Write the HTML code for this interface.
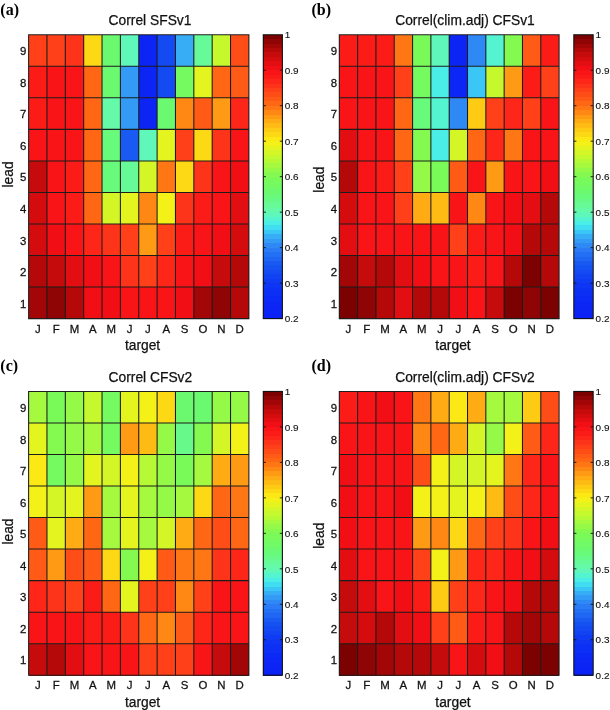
<!DOCTYPE html>
<html><head><meta charset="utf-8"><title>Correlation heatmaps</title>
<style>
html,body{margin:0;padding:0;background:#fff;}
svg{display:block;will-change:transform;}
text{font-family:"Liberation Sans",sans-serif;fill:#111;stroke:#111;stroke-width:0.25px;}
.cb{stroke-width:0.12px;}
.tag{font-family:"Liberation Serif",serif;font-weight:bold;fill:#000;stroke:none;}
</style></head><body>
<svg width="610" height="710" viewBox="0 0 610 710">
<rect width="610" height="710" fill="#fff"/>
<g shape-rendering="crispEdges">
<rect x="28.60" y="34.75" width="18.66" height="31.84" fill="#ff4019"/>
<rect x="46.96" y="34.75" width="18.66" height="31.84" fill="#ff4019"/>
<rect x="65.32" y="34.75" width="18.66" height="31.84" fill="#fe341a"/>
<rect x="83.68" y="34.75" width="18.66" height="31.84" fill="#fcd914"/>
<rect x="102.03" y="34.75" width="18.66" height="31.84" fill="#6bfa6f"/>
<rect x="120.39" y="34.75" width="18.66" height="31.84" fill="#5ff8ba"/>
<rect x="138.75" y="34.75" width="18.66" height="31.84" fill="#0c25f5"/>
<rect x="157.11" y="34.75" width="18.66" height="31.84" fill="#134af2"/>
<rect x="175.47" y="34.75" width="18.66" height="31.84" fill="#37adf5"/>
<rect x="193.83" y="34.75" width="18.66" height="31.84" fill="#66fa98"/>
<rect x="212.18" y="34.75" width="18.66" height="31.84" fill="#c5f92e"/>
<rect x="230.54" y="34.75" width="18.66" height="31.84" fill="#ff4d18"/>
<rect x="28.60" y="66.29" width="18.66" height="31.84" fill="#fb1c18"/>
<rect x="46.96" y="66.29" width="18.66" height="31.84" fill="#f91417"/>
<rect x="65.32" y="66.29" width="18.66" height="31.84" fill="#f91417"/>
<rect x="83.68" y="66.29" width="18.66" height="31.84" fill="#ff6715"/>
<rect x="102.03" y="66.29" width="18.66" height="31.84" fill="#6bfa6f"/>
<rect x="120.39" y="66.29" width="18.66" height="31.84" fill="#339af5"/>
<rect x="138.75" y="66.29" width="18.66" height="31.84" fill="#0c25f5"/>
<rect x="157.11" y="66.29" width="18.66" height="31.84" fill="#134af2"/>
<rect x="175.47" y="66.29" width="18.66" height="31.84" fill="#75fa60"/>
<rect x="193.83" y="66.29" width="18.66" height="31.84" fill="#e4f41f"/>
<rect x="212.18" y="66.29" width="18.66" height="31.84" fill="#ff6715"/>
<rect x="230.54" y="66.29" width="18.66" height="31.84" fill="#ff5a16"/>
<rect x="28.60" y="97.83" width="18.66" height="31.84" fill="#fb1c18"/>
<rect x="46.96" y="97.83" width="18.66" height="31.84" fill="#f91417"/>
<rect x="65.32" y="97.83" width="18.66" height="31.84" fill="#f91417"/>
<rect x="83.68" y="97.83" width="18.66" height="31.84" fill="#ff6715"/>
<rect x="102.03" y="97.83" width="18.66" height="31.84" fill="#65faa7"/>
<rect x="120.39" y="97.83" width="18.66" height="31.84" fill="#339af5"/>
<rect x="138.75" y="97.83" width="18.66" height="31.84" fill="#0c25f5"/>
<rect x="157.11" y="97.83" width="18.66" height="31.84" fill="#6bfa6f"/>
<rect x="175.47" y="97.83" width="18.66" height="31.84" fill="#ff8814"/>
<rect x="193.83" y="97.83" width="18.66" height="31.84" fill="#ff5a16"/>
<rect x="212.18" y="97.83" width="18.66" height="31.84" fill="#ff9a14"/>
<rect x="230.54" y="97.83" width="18.66" height="31.84" fill="#fd2619"/>
<rect x="28.60" y="129.37" width="18.66" height="31.84" fill="#f91417"/>
<rect x="46.96" y="129.37" width="18.66" height="31.84" fill="#f91417"/>
<rect x="65.32" y="129.37" width="18.66" height="31.84" fill="#f91417"/>
<rect x="83.68" y="129.37" width="18.66" height="31.84" fill="#ff6715"/>
<rect x="102.03" y="129.37" width="18.66" height="31.84" fill="#68fa7b"/>
<rect x="120.39" y="129.37" width="18.66" height="31.84" fill="#195bf2"/>
<rect x="138.75" y="129.37" width="18.66" height="31.84" fill="#5ff8ba"/>
<rect x="157.11" y="129.37" width="18.66" height="31.84" fill="#e4f41f"/>
<rect x="175.47" y="129.37" width="18.66" height="31.84" fill="#ff4019"/>
<rect x="193.83" y="129.37" width="18.66" height="31.84" fill="#fcd914"/>
<rect x="212.18" y="129.37" width="18.66" height="31.84" fill="#fe341a"/>
<rect x="230.54" y="129.37" width="18.66" height="31.84" fill="#f91417"/>
<rect x="28.60" y="160.91" width="18.66" height="31.84" fill="#c50b0b"/>
<rect x="46.96" y="160.91" width="18.66" height="31.84" fill="#f91417"/>
<rect x="65.32" y="160.91" width="18.66" height="31.84" fill="#fb1c18"/>
<rect x="83.68" y="160.91" width="18.66" height="31.84" fill="#ff6715"/>
<rect x="102.03" y="160.91" width="18.66" height="31.84" fill="#68fa7b"/>
<rect x="120.39" y="160.91" width="18.66" height="31.84" fill="#66fa98"/>
<rect x="138.75" y="160.91" width="18.66" height="31.84" fill="#d4f627"/>
<rect x="157.11" y="160.91" width="18.66" height="31.84" fill="#ff7714"/>
<rect x="175.47" y="160.91" width="18.66" height="31.84" fill="#fcd914"/>
<rect x="193.83" y="160.91" width="18.66" height="31.84" fill="#fe341a"/>
<rect x="212.18" y="160.91" width="18.66" height="31.84" fill="#f91417"/>
<rect x="230.54" y="160.91" width="18.66" height="31.84" fill="#f10f15"/>
<rect x="28.60" y="192.44" width="18.66" height="31.84" fill="#d40c0e"/>
<rect x="46.96" y="192.44" width="18.66" height="31.84" fill="#f91417"/>
<rect x="65.32" y="192.44" width="18.66" height="31.84" fill="#fb1c18"/>
<rect x="83.68" y="192.44" width="18.66" height="31.84" fill="#ff6715"/>
<rect x="102.03" y="192.44" width="18.66" height="31.84" fill="#d4f627"/>
<rect x="120.39" y="192.44" width="18.66" height="31.84" fill="#e4f41f"/>
<rect x="138.75" y="192.44" width="18.66" height="31.84" fill="#ff8814"/>
<rect x="157.11" y="192.44" width="18.66" height="31.84" fill="#f3f118"/>
<rect x="175.47" y="192.44" width="18.66" height="31.84" fill="#fe341a"/>
<rect x="193.83" y="192.44" width="18.66" height="31.84" fill="#fb1c18"/>
<rect x="212.18" y="192.44" width="18.66" height="31.84" fill="#f91417"/>
<rect x="230.54" y="192.44" width="18.66" height="31.84" fill="#e20e12"/>
<rect x="28.60" y="223.98" width="18.66" height="31.84" fill="#d40c0e"/>
<rect x="46.96" y="223.98" width="18.66" height="31.84" fill="#f10f15"/>
<rect x="65.32" y="223.98" width="18.66" height="31.84" fill="#f91417"/>
<rect x="83.68" y="223.98" width="18.66" height="31.84" fill="#fd2619"/>
<rect x="102.03" y="223.98" width="18.66" height="31.84" fill="#fe341a"/>
<rect x="120.39" y="223.98" width="18.66" height="31.84" fill="#ff4019"/>
<rect x="138.75" y="223.98" width="18.66" height="31.84" fill="#ff9a14"/>
<rect x="157.11" y="223.98" width="18.66" height="31.84" fill="#ff4019"/>
<rect x="175.47" y="223.98" width="18.66" height="31.84" fill="#fb1c18"/>
<rect x="193.83" y="223.98" width="18.66" height="31.84" fill="#f91417"/>
<rect x="212.18" y="223.98" width="18.66" height="31.84" fill="#f10f15"/>
<rect x="230.54" y="223.98" width="18.66" height="31.84" fill="#d40c0e"/>
<rect x="28.60" y="255.52" width="18.66" height="31.84" fill="#b50909"/>
<rect x="46.96" y="255.52" width="18.66" height="31.84" fill="#c50b0b"/>
<rect x="65.32" y="255.52" width="18.66" height="31.84" fill="#e20e12"/>
<rect x="83.68" y="255.52" width="18.66" height="31.84" fill="#f10f15"/>
<rect x="102.03" y="255.52" width="18.66" height="31.84" fill="#f91417"/>
<rect x="120.39" y="255.52" width="18.66" height="31.84" fill="#fe341a"/>
<rect x="138.75" y="255.52" width="18.66" height="31.84" fill="#ff4019"/>
<rect x="157.11" y="255.52" width="18.66" height="31.84" fill="#fd2619"/>
<rect x="175.47" y="255.52" width="18.66" height="31.84" fill="#f91417"/>
<rect x="193.83" y="255.52" width="18.66" height="31.84" fill="#f10f15"/>
<rect x="212.18" y="255.52" width="18.66" height="31.84" fill="#c50b0b"/>
<rect x="230.54" y="255.52" width="18.66" height="31.84" fill="#b50909"/>
<rect x="28.60" y="287.06" width="18.66" height="31.84" fill="#a20606"/>
<rect x="46.96" y="287.06" width="18.66" height="31.84" fill="#8f0404"/>
<rect x="65.32" y="287.06" width="18.66" height="31.84" fill="#b50909"/>
<rect x="83.68" y="287.06" width="18.66" height="31.84" fill="#f10f15"/>
<rect x="102.03" y="287.06" width="18.66" height="31.84" fill="#f10f15"/>
<rect x="120.39" y="287.06" width="18.66" height="31.84" fill="#f91417"/>
<rect x="138.75" y="287.06" width="18.66" height="31.84" fill="#f91417"/>
<rect x="157.11" y="287.06" width="18.66" height="31.84" fill="#f91417"/>
<rect x="175.47" y="287.06" width="18.66" height="31.84" fill="#f10f15"/>
<rect x="193.83" y="287.06" width="18.66" height="31.84" fill="#a20606"/>
<rect x="212.18" y="287.06" width="18.66" height="31.84" fill="#8f0404"/>
<rect x="230.54" y="287.06" width="18.66" height="31.84" fill="#b50909"/>
</g>
<path d="M28.60 34.25V319.10M46.96 34.25V319.10M65.32 34.25V319.10M83.68 34.25V319.10M102.03 34.25V319.10M120.39 34.25V319.10M138.75 34.25V319.10M157.11 34.25V319.10M175.47 34.25V319.10M193.83 34.25V319.10M212.18 34.25V319.10M230.54 34.25V319.10M248.90 34.25V319.10M28.10 34.75H249.40M28.10 66.29H249.40M28.10 97.83H249.40M28.10 129.37H249.40M28.10 160.91H249.40M28.10 192.44H249.40M28.10 223.98H249.40M28.10 255.52H249.40M28.10 287.06H249.40M28.10 318.60H249.40" stroke="#1c1c1c" stroke-width="1.05" fill="none"/>
<g shape-rendering="crispEdges">
<rect x="263.30" y="34.75" width="19.10" height="4.74" fill="#7c0101"/>
<rect x="263.30" y="39.19" width="19.10" height="4.74" fill="#8f0404"/>
<rect x="263.30" y="43.62" width="19.10" height="4.74" fill="#a20606"/>
<rect x="263.30" y="48.06" width="19.10" height="4.74" fill="#b50909"/>
<rect x="263.30" y="52.49" width="19.10" height="4.74" fill="#c50b0b"/>
<rect x="263.30" y="56.93" width="19.10" height="4.74" fill="#d40c0e"/>
<rect x="263.30" y="61.36" width="19.10" height="4.74" fill="#e20e12"/>
<rect x="263.30" y="65.80" width="19.10" height="4.74" fill="#f10f15"/>
<rect x="263.30" y="70.23" width="19.10" height="4.74" fill="#f91417"/>
<rect x="263.30" y="74.67" width="19.10" height="4.74" fill="#fb1c18"/>
<rect x="263.30" y="79.10" width="19.10" height="4.74" fill="#fd2619"/>
<rect x="263.30" y="83.54" width="19.10" height="4.74" fill="#fe341a"/>
<rect x="263.30" y="87.97" width="19.10" height="4.74" fill="#ff4019"/>
<rect x="263.30" y="92.41" width="19.10" height="4.74" fill="#ff4d18"/>
<rect x="263.30" y="96.84" width="19.10" height="4.74" fill="#ff5a16"/>
<rect x="263.30" y="101.28" width="19.10" height="4.74" fill="#ff6715"/>
<rect x="263.30" y="105.71" width="19.10" height="4.74" fill="#ff7714"/>
<rect x="263.30" y="110.15" width="19.10" height="4.74" fill="#ff8814"/>
<rect x="263.30" y="114.58" width="19.10" height="4.74" fill="#ff9a14"/>
<rect x="263.30" y="119.02" width="19.10" height="4.74" fill="#ffab14"/>
<rect x="263.30" y="123.45" width="19.10" height="4.74" fill="#febb14"/>
<rect x="263.30" y="127.89" width="19.10" height="4.74" fill="#fdcb14"/>
<rect x="263.30" y="132.32" width="19.10" height="4.74" fill="#fcd914"/>
<rect x="263.30" y="136.76" width="19.10" height="4.74" fill="#fbe814"/>
<rect x="263.30" y="141.19" width="19.10" height="4.74" fill="#f3f118"/>
<rect x="263.30" y="145.63" width="19.10" height="4.74" fill="#e4f41f"/>
<rect x="263.30" y="150.06" width="19.10" height="4.74" fill="#d4f627"/>
<rect x="263.30" y="154.50" width="19.10" height="4.74" fill="#c5f92e"/>
<rect x="263.30" y="158.93" width="19.10" height="4.74" fill="#b6fa36"/>
<rect x="263.30" y="163.37" width="19.10" height="4.74" fill="#a5fa3f"/>
<rect x="263.30" y="167.80" width="19.10" height="4.74" fill="#95fa47"/>
<rect x="263.30" y="172.24" width="19.10" height="4.74" fill="#84fa50"/>
<rect x="263.30" y="176.68" width="19.10" height="4.74" fill="#7afa58"/>
<rect x="263.30" y="181.11" width="19.10" height="4.74" fill="#75fa60"/>
<rect x="263.30" y="185.55" width="19.10" height="4.74" fill="#70fa67"/>
<rect x="263.30" y="189.98" width="19.10" height="4.74" fill="#6bfa6f"/>
<rect x="263.30" y="194.42" width="19.10" height="4.74" fill="#68fa7b"/>
<rect x="263.30" y="198.85" width="19.10" height="4.74" fill="#67fa8a"/>
<rect x="263.30" y="203.29" width="19.10" height="4.74" fill="#66fa98"/>
<rect x="263.30" y="207.72" width="19.10" height="4.74" fill="#65faa7"/>
<rect x="263.30" y="212.16" width="19.10" height="4.74" fill="#5ff8ba"/>
<rect x="263.30" y="216.59" width="19.10" height="4.74" fill="#54f4d1"/>
<rect x="263.30" y="221.03" width="19.10" height="4.74" fill="#4aeee7"/>
<rect x="263.30" y="225.46" width="19.10" height="4.74" fill="#41ddf0"/>
<rect x="263.30" y="229.90" width="19.10" height="4.74" fill="#3ac7f5"/>
<rect x="263.30" y="234.33" width="19.10" height="4.74" fill="#37adf5"/>
<rect x="263.30" y="238.77" width="19.10" height="4.74" fill="#339af5"/>
<rect x="263.30" y="243.20" width="19.10" height="4.74" fill="#2f89f5"/>
<rect x="263.30" y="247.64" width="19.10" height="4.74" fill="#2a7bf5"/>
<rect x="263.30" y="252.07" width="19.10" height="4.74" fill="#2470f4"/>
<rect x="263.30" y="256.51" width="19.10" height="4.74" fill="#1f66f3"/>
<rect x="263.30" y="260.94" width="19.10" height="4.74" fill="#195bf2"/>
<rect x="263.30" y="265.38" width="19.10" height="4.74" fill="#1552f2"/>
<rect x="263.30" y="269.81" width="19.10" height="4.74" fill="#134af2"/>
<rect x="263.30" y="274.25" width="19.10" height="4.74" fill="#1143f3"/>
<rect x="263.30" y="278.68" width="19.10" height="4.74" fill="#0f3bf3"/>
<rect x="263.30" y="283.12" width="19.10" height="4.74" fill="#0e35f3"/>
<rect x="263.30" y="287.55" width="19.10" height="4.74" fill="#0d31f4"/>
<rect x="263.30" y="291.99" width="19.10" height="4.74" fill="#0d2ef4"/>
<rect x="263.30" y="296.42" width="19.10" height="4.74" fill="#0c2af5"/>
<rect x="263.30" y="300.86" width="19.10" height="4.74" fill="#0c27f5"/>
<rect x="263.30" y="305.29" width="19.10" height="4.74" fill="#0c25f5"/>
<rect x="263.30" y="309.73" width="19.10" height="4.74" fill="#0c23f5"/>
<rect x="263.30" y="314.16" width="19.10" height="4.74" fill="#0c21f5"/>
</g>
<rect x="263.30" y="34.75" width="19.10" height="283.85" fill="none" stroke="#111" stroke-width="1.1"/>
<text transform="translate(284.80 38.45) scale(1.07 1)" font-size="9.3" class="cb">1</text>
<path d="M263.30 70.23h2.6M282.40 70.23h-2.6" stroke="#111" stroke-width="0.9"/>
<text transform="translate(284.80 73.93) scale(1.07 1)" font-size="9.3" class="cb">0.9</text>
<path d="M263.30 105.71h2.6M282.40 105.71h-2.6" stroke="#111" stroke-width="0.9"/>
<text transform="translate(284.80 109.41) scale(1.07 1)" font-size="9.3" class="cb">0.8</text>
<path d="M263.30 141.19h2.6M282.40 141.19h-2.6" stroke="#111" stroke-width="0.9"/>
<text transform="translate(284.80 144.89) scale(1.07 1)" font-size="9.3" class="cb">0.7</text>
<path d="M263.30 176.68h2.6M282.40 176.68h-2.6" stroke="#111" stroke-width="0.9"/>
<text transform="translate(284.80 180.38) scale(1.07 1)" font-size="9.3" class="cb">0.6</text>
<path d="M263.30 212.16h2.6M282.40 212.16h-2.6" stroke="#111" stroke-width="0.9"/>
<text transform="translate(284.80 215.86) scale(1.07 1)" font-size="9.3" class="cb">0.5</text>
<path d="M263.30 247.64h2.6M282.40 247.64h-2.6" stroke="#111" stroke-width="0.9"/>
<text transform="translate(284.80 251.34) scale(1.07 1)" font-size="9.3" class="cb">0.4</text>
<path d="M263.30 283.12h2.6M282.40 283.12h-2.6" stroke="#111" stroke-width="0.9"/>
<text transform="translate(284.80 286.82) scale(1.07 1)" font-size="9.3" class="cb">0.3</text>
<text transform="translate(284.80 322.30) scale(1.07 1)" font-size="9.3" class="cb">0.2</text>
<text transform="translate(26.40 55.32) scale(1.06 1)" font-size="10.8" text-anchor="end">9</text>
<text transform="translate(26.40 86.86) scale(1.06 1)" font-size="10.8" text-anchor="end">8</text>
<text transform="translate(26.40 118.40) scale(1.06 1)" font-size="10.8" text-anchor="end">7</text>
<text transform="translate(26.40 149.94) scale(1.06 1)" font-size="10.8" text-anchor="end">6</text>
<text transform="translate(26.40 181.48) scale(1.06 1)" font-size="10.8" text-anchor="end">5</text>
<text transform="translate(26.40 213.01) scale(1.06 1)" font-size="10.8" text-anchor="end">4</text>
<text transform="translate(26.40 244.55) scale(1.06 1)" font-size="10.8" text-anchor="end">3</text>
<text transform="translate(26.40 276.09) scale(1.06 1)" font-size="10.8" text-anchor="end">2</text>
<text transform="translate(26.40 307.63) scale(1.06 1)" font-size="10.8" text-anchor="end">1</text>
<text transform="translate(37.78 332.50) scale(1.06 1)" font-size="10.8" text-anchor="middle">J</text>
<text transform="translate(56.14 332.50) scale(1.06 1)" font-size="10.8" text-anchor="middle">F</text>
<text transform="translate(74.50 332.50) scale(1.06 1)" font-size="10.8" text-anchor="middle">M</text>
<text transform="translate(92.85 332.50) scale(1.06 1)" font-size="10.8" text-anchor="middle">A</text>
<text transform="translate(111.21 332.50) scale(1.06 1)" font-size="10.8" text-anchor="middle">M</text>
<text transform="translate(129.57 332.50) scale(1.06 1)" font-size="10.8" text-anchor="middle">J</text>
<text transform="translate(147.93 332.50) scale(1.06 1)" font-size="10.8" text-anchor="middle">J</text>
<text transform="translate(166.29 332.50) scale(1.06 1)" font-size="10.8" text-anchor="middle">A</text>
<text transform="translate(184.65 332.50) scale(1.06 1)" font-size="10.8" text-anchor="middle">S</text>
<text transform="translate(203.00 332.50) scale(1.06 1)" font-size="10.8" text-anchor="middle">O</text>
<text transform="translate(221.36 332.50) scale(1.06 1)" font-size="10.8" text-anchor="middle">N</text>
<text transform="translate(239.72 332.50) scale(1.06 1)" font-size="10.8" text-anchor="middle">D</text>
<text transform="translate(108.60 25.45)" font-size="13.8">Correl SFSv1</text>
<text transform="translate(142.55 350.10)" font-size="13.8" text-anchor="middle">target</text>
<text transform="translate(13.00 174.48) rotate(-90)" font-size="13.8" text-anchor="middle">lead</text>
<text transform="translate(0.30 15.30)" font-size="16.0" class="tag">(a)</text>
<g shape-rendering="crispEdges">
<rect x="339.30" y="34.75" width="18.62" height="31.84" fill="#fb1c18"/>
<rect x="357.62" y="34.75" width="18.62" height="31.84" fill="#fb1c18"/>
<rect x="375.93" y="34.75" width="18.62" height="31.84" fill="#fb1c18"/>
<rect x="394.25" y="34.75" width="18.62" height="31.84" fill="#ff7714"/>
<rect x="412.57" y="34.75" width="18.62" height="31.84" fill="#7afa58"/>
<rect x="430.88" y="34.75" width="18.62" height="31.84" fill="#5ff8ba"/>
<rect x="449.20" y="34.75" width="18.62" height="31.84" fill="#0c25f5"/>
<rect x="467.52" y="34.75" width="18.62" height="31.84" fill="#2f89f5"/>
<rect x="485.83" y="34.75" width="18.62" height="31.84" fill="#54f4d1"/>
<rect x="504.15" y="34.75" width="18.62" height="31.84" fill="#84fa50"/>
<rect x="522.47" y="34.75" width="18.62" height="31.84" fill="#ff5a16"/>
<rect x="540.78" y="34.75" width="18.62" height="31.84" fill="#fb1c18"/>
<rect x="339.30" y="66.29" width="18.62" height="31.84" fill="#f91417"/>
<rect x="357.62" y="66.29" width="18.62" height="31.84" fill="#f91417"/>
<rect x="375.93" y="66.29" width="18.62" height="31.84" fill="#f91417"/>
<rect x="394.25" y="66.29" width="18.62" height="31.84" fill="#ff4019"/>
<rect x="412.57" y="66.29" width="18.62" height="31.84" fill="#75fa60"/>
<rect x="430.88" y="66.29" width="18.62" height="31.84" fill="#4aeee7"/>
<rect x="449.20" y="66.29" width="18.62" height="31.84" fill="#0c27f5"/>
<rect x="467.52" y="66.29" width="18.62" height="31.84" fill="#3ac7f5"/>
<rect x="485.83" y="66.29" width="18.62" height="31.84" fill="#c5f92e"/>
<rect x="504.15" y="66.29" width="18.62" height="31.84" fill="#ff9a14"/>
<rect x="522.47" y="66.29" width="18.62" height="31.84" fill="#fb1c18"/>
<rect x="540.78" y="66.29" width="18.62" height="31.84" fill="#ff4019"/>
<rect x="339.30" y="97.83" width="18.62" height="31.84" fill="#f91417"/>
<rect x="357.62" y="97.83" width="18.62" height="31.84" fill="#f91417"/>
<rect x="375.93" y="97.83" width="18.62" height="31.84" fill="#f91417"/>
<rect x="394.25" y="97.83" width="18.62" height="31.84" fill="#ff6715"/>
<rect x="412.57" y="97.83" width="18.62" height="31.84" fill="#68fa7b"/>
<rect x="430.88" y="97.83" width="18.62" height="31.84" fill="#54f4d1"/>
<rect x="449.20" y="97.83" width="18.62" height="31.84" fill="#2f89f5"/>
<rect x="467.52" y="97.83" width="18.62" height="31.84" fill="#fdcb14"/>
<rect x="485.83" y="97.83" width="18.62" height="31.84" fill="#ff4019"/>
<rect x="504.15" y="97.83" width="18.62" height="31.84" fill="#fd2619"/>
<rect x="522.47" y="97.83" width="18.62" height="31.84" fill="#ff4019"/>
<rect x="540.78" y="97.83" width="18.62" height="31.84" fill="#f91417"/>
<rect x="339.30" y="129.37" width="18.62" height="31.84" fill="#e20e12"/>
<rect x="357.62" y="129.37" width="18.62" height="31.84" fill="#f91417"/>
<rect x="375.93" y="129.37" width="18.62" height="31.84" fill="#f91417"/>
<rect x="394.25" y="129.37" width="18.62" height="31.84" fill="#ff6715"/>
<rect x="412.57" y="129.37" width="18.62" height="31.84" fill="#84fa50"/>
<rect x="430.88" y="129.37" width="18.62" height="31.84" fill="#4aeee7"/>
<rect x="449.20" y="129.37" width="18.62" height="31.84" fill="#d4f627"/>
<rect x="467.52" y="129.37" width="18.62" height="31.84" fill="#ff6715"/>
<rect x="485.83" y="129.37" width="18.62" height="31.84" fill="#fd2619"/>
<rect x="504.15" y="129.37" width="18.62" height="31.84" fill="#ff7714"/>
<rect x="522.47" y="129.37" width="18.62" height="31.84" fill="#f91417"/>
<rect x="540.78" y="129.37" width="18.62" height="31.84" fill="#f91417"/>
<rect x="339.30" y="160.91" width="18.62" height="31.84" fill="#b50909"/>
<rect x="357.62" y="160.91" width="18.62" height="31.84" fill="#f91417"/>
<rect x="375.93" y="160.91" width="18.62" height="31.84" fill="#fb1c18"/>
<rect x="394.25" y="160.91" width="18.62" height="31.84" fill="#ff4019"/>
<rect x="412.57" y="160.91" width="18.62" height="31.84" fill="#95fa47"/>
<rect x="430.88" y="160.91" width="18.62" height="31.84" fill="#7afa58"/>
<rect x="449.20" y="160.91" width="18.62" height="31.84" fill="#ff5a16"/>
<rect x="467.52" y="160.91" width="18.62" height="31.84" fill="#f91417"/>
<rect x="485.83" y="160.91" width="18.62" height="31.84" fill="#ff9a14"/>
<rect x="504.15" y="160.91" width="18.62" height="31.84" fill="#f91417"/>
<rect x="522.47" y="160.91" width="18.62" height="31.84" fill="#f91417"/>
<rect x="540.78" y="160.91" width="18.62" height="31.84" fill="#f10f15"/>
<rect x="339.30" y="192.44" width="18.62" height="31.84" fill="#d40c0e"/>
<rect x="357.62" y="192.44" width="18.62" height="31.84" fill="#f91417"/>
<rect x="375.93" y="192.44" width="18.62" height="31.84" fill="#f91417"/>
<rect x="394.25" y="192.44" width="18.62" height="31.84" fill="#ff4019"/>
<rect x="412.57" y="192.44" width="18.62" height="31.84" fill="#ffab14"/>
<rect x="430.88" y="192.44" width="18.62" height="31.84" fill="#febb14"/>
<rect x="449.20" y="192.44" width="18.62" height="31.84" fill="#f91417"/>
<rect x="467.52" y="192.44" width="18.62" height="31.84" fill="#ff8814"/>
<rect x="485.83" y="192.44" width="18.62" height="31.84" fill="#f91417"/>
<rect x="504.15" y="192.44" width="18.62" height="31.84" fill="#f10f15"/>
<rect x="522.47" y="192.44" width="18.62" height="31.84" fill="#e20e12"/>
<rect x="540.78" y="192.44" width="18.62" height="31.84" fill="#b50909"/>
<rect x="339.30" y="223.98" width="18.62" height="31.84" fill="#e20e12"/>
<rect x="357.62" y="223.98" width="18.62" height="31.84" fill="#f91417"/>
<rect x="375.93" y="223.98" width="18.62" height="31.84" fill="#f91417"/>
<rect x="394.25" y="223.98" width="18.62" height="31.84" fill="#f91417"/>
<rect x="412.57" y="223.98" width="18.62" height="31.84" fill="#f91417"/>
<rect x="430.88" y="223.98" width="18.62" height="31.84" fill="#f91417"/>
<rect x="449.20" y="223.98" width="18.62" height="31.84" fill="#ff4019"/>
<rect x="467.52" y="223.98" width="18.62" height="31.84" fill="#fb1c18"/>
<rect x="485.83" y="223.98" width="18.62" height="31.84" fill="#f91417"/>
<rect x="504.15" y="223.98" width="18.62" height="31.84" fill="#f10f15"/>
<rect x="522.47" y="223.98" width="18.62" height="31.84" fill="#b50909"/>
<rect x="540.78" y="223.98" width="18.62" height="31.84" fill="#b50909"/>
<rect x="339.30" y="255.52" width="18.62" height="31.84" fill="#a20606"/>
<rect x="357.62" y="255.52" width="18.62" height="31.84" fill="#c50b0b"/>
<rect x="375.93" y="255.52" width="18.62" height="31.84" fill="#b50909"/>
<rect x="394.25" y="255.52" width="18.62" height="31.84" fill="#e20e12"/>
<rect x="412.57" y="255.52" width="18.62" height="31.84" fill="#f10f15"/>
<rect x="430.88" y="255.52" width="18.62" height="31.84" fill="#f91417"/>
<rect x="449.20" y="255.52" width="18.62" height="31.84" fill="#f91417"/>
<rect x="467.52" y="255.52" width="18.62" height="31.84" fill="#fb1c18"/>
<rect x="485.83" y="255.52" width="18.62" height="31.84" fill="#f91417"/>
<rect x="504.15" y="255.52" width="18.62" height="31.84" fill="#b50909"/>
<rect x="522.47" y="255.52" width="18.62" height="31.84" fill="#7c0101"/>
<rect x="540.78" y="255.52" width="18.62" height="31.84" fill="#b50909"/>
<rect x="339.30" y="287.06" width="18.62" height="31.84" fill="#7c0101"/>
<rect x="357.62" y="287.06" width="18.62" height="31.84" fill="#8f0404"/>
<rect x="375.93" y="287.06" width="18.62" height="31.84" fill="#b50909"/>
<rect x="394.25" y="287.06" width="18.62" height="31.84" fill="#e20e12"/>
<rect x="412.57" y="287.06" width="18.62" height="31.84" fill="#b50909"/>
<rect x="430.88" y="287.06" width="18.62" height="31.84" fill="#b50909"/>
<rect x="449.20" y="287.06" width="18.62" height="31.84" fill="#f10f15"/>
<rect x="467.52" y="287.06" width="18.62" height="31.84" fill="#f91417"/>
<rect x="485.83" y="287.06" width="18.62" height="31.84" fill="#c50b0b"/>
<rect x="504.15" y="287.06" width="18.62" height="31.84" fill="#7c0101"/>
<rect x="522.47" y="287.06" width="18.62" height="31.84" fill="#8f0404"/>
<rect x="540.78" y="287.06" width="18.62" height="31.84" fill="#7c0101"/>
</g>
<path d="M339.30 34.25V319.10M357.62 34.25V319.10M375.93 34.25V319.10M394.25 34.25V319.10M412.57 34.25V319.10M430.88 34.25V319.10M449.20 34.25V319.10M467.52 34.25V319.10M485.83 34.25V319.10M504.15 34.25V319.10M522.47 34.25V319.10M540.78 34.25V319.10M559.10 34.25V319.10M338.80 34.75H559.60M338.80 66.29H559.60M338.80 97.83H559.60M338.80 129.37H559.60M338.80 160.91H559.60M338.80 192.44H559.60M338.80 223.98H559.60M338.80 255.52H559.60M338.80 287.06H559.60M338.80 318.60H559.60" stroke="#1c1c1c" stroke-width="1.05" fill="none"/>
<g shape-rendering="crispEdges">
<rect x="573.80" y="34.75" width="19.40" height="4.74" fill="#7c0101"/>
<rect x="573.80" y="39.19" width="19.40" height="4.74" fill="#8f0404"/>
<rect x="573.80" y="43.62" width="19.40" height="4.74" fill="#a20606"/>
<rect x="573.80" y="48.06" width="19.40" height="4.74" fill="#b50909"/>
<rect x="573.80" y="52.49" width="19.40" height="4.74" fill="#c50b0b"/>
<rect x="573.80" y="56.93" width="19.40" height="4.74" fill="#d40c0e"/>
<rect x="573.80" y="61.36" width="19.40" height="4.74" fill="#e20e12"/>
<rect x="573.80" y="65.80" width="19.40" height="4.74" fill="#f10f15"/>
<rect x="573.80" y="70.23" width="19.40" height="4.74" fill="#f91417"/>
<rect x="573.80" y="74.67" width="19.40" height="4.74" fill="#fb1c18"/>
<rect x="573.80" y="79.10" width="19.40" height="4.74" fill="#fd2619"/>
<rect x="573.80" y="83.54" width="19.40" height="4.74" fill="#fe341a"/>
<rect x="573.80" y="87.97" width="19.40" height="4.74" fill="#ff4019"/>
<rect x="573.80" y="92.41" width="19.40" height="4.74" fill="#ff4d18"/>
<rect x="573.80" y="96.84" width="19.40" height="4.74" fill="#ff5a16"/>
<rect x="573.80" y="101.28" width="19.40" height="4.74" fill="#ff6715"/>
<rect x="573.80" y="105.71" width="19.40" height="4.74" fill="#ff7714"/>
<rect x="573.80" y="110.15" width="19.40" height="4.74" fill="#ff8814"/>
<rect x="573.80" y="114.58" width="19.40" height="4.74" fill="#ff9a14"/>
<rect x="573.80" y="119.02" width="19.40" height="4.74" fill="#ffab14"/>
<rect x="573.80" y="123.45" width="19.40" height="4.74" fill="#febb14"/>
<rect x="573.80" y="127.89" width="19.40" height="4.74" fill="#fdcb14"/>
<rect x="573.80" y="132.32" width="19.40" height="4.74" fill="#fcd914"/>
<rect x="573.80" y="136.76" width="19.40" height="4.74" fill="#fbe814"/>
<rect x="573.80" y="141.19" width="19.40" height="4.74" fill="#f3f118"/>
<rect x="573.80" y="145.63" width="19.40" height="4.74" fill="#e4f41f"/>
<rect x="573.80" y="150.06" width="19.40" height="4.74" fill="#d4f627"/>
<rect x="573.80" y="154.50" width="19.40" height="4.74" fill="#c5f92e"/>
<rect x="573.80" y="158.93" width="19.40" height="4.74" fill="#b6fa36"/>
<rect x="573.80" y="163.37" width="19.40" height="4.74" fill="#a5fa3f"/>
<rect x="573.80" y="167.80" width="19.40" height="4.74" fill="#95fa47"/>
<rect x="573.80" y="172.24" width="19.40" height="4.74" fill="#84fa50"/>
<rect x="573.80" y="176.68" width="19.40" height="4.74" fill="#7afa58"/>
<rect x="573.80" y="181.11" width="19.40" height="4.74" fill="#75fa60"/>
<rect x="573.80" y="185.55" width="19.40" height="4.74" fill="#70fa67"/>
<rect x="573.80" y="189.98" width="19.40" height="4.74" fill="#6bfa6f"/>
<rect x="573.80" y="194.42" width="19.40" height="4.74" fill="#68fa7b"/>
<rect x="573.80" y="198.85" width="19.40" height="4.74" fill="#67fa8a"/>
<rect x="573.80" y="203.29" width="19.40" height="4.74" fill="#66fa98"/>
<rect x="573.80" y="207.72" width="19.40" height="4.74" fill="#65faa7"/>
<rect x="573.80" y="212.16" width="19.40" height="4.74" fill="#5ff8ba"/>
<rect x="573.80" y="216.59" width="19.40" height="4.74" fill="#54f4d1"/>
<rect x="573.80" y="221.03" width="19.40" height="4.74" fill="#4aeee7"/>
<rect x="573.80" y="225.46" width="19.40" height="4.74" fill="#41ddf0"/>
<rect x="573.80" y="229.90" width="19.40" height="4.74" fill="#3ac7f5"/>
<rect x="573.80" y="234.33" width="19.40" height="4.74" fill="#37adf5"/>
<rect x="573.80" y="238.77" width="19.40" height="4.74" fill="#339af5"/>
<rect x="573.80" y="243.20" width="19.40" height="4.74" fill="#2f89f5"/>
<rect x="573.80" y="247.64" width="19.40" height="4.74" fill="#2a7bf5"/>
<rect x="573.80" y="252.07" width="19.40" height="4.74" fill="#2470f4"/>
<rect x="573.80" y="256.51" width="19.40" height="4.74" fill="#1f66f3"/>
<rect x="573.80" y="260.94" width="19.40" height="4.74" fill="#195bf2"/>
<rect x="573.80" y="265.38" width="19.40" height="4.74" fill="#1552f2"/>
<rect x="573.80" y="269.81" width="19.40" height="4.74" fill="#134af2"/>
<rect x="573.80" y="274.25" width="19.40" height="4.74" fill="#1143f3"/>
<rect x="573.80" y="278.68" width="19.40" height="4.74" fill="#0f3bf3"/>
<rect x="573.80" y="283.12" width="19.40" height="4.74" fill="#0e35f3"/>
<rect x="573.80" y="287.55" width="19.40" height="4.74" fill="#0d31f4"/>
<rect x="573.80" y="291.99" width="19.40" height="4.74" fill="#0d2ef4"/>
<rect x="573.80" y="296.42" width="19.40" height="4.74" fill="#0c2af5"/>
<rect x="573.80" y="300.86" width="19.40" height="4.74" fill="#0c27f5"/>
<rect x="573.80" y="305.29" width="19.40" height="4.74" fill="#0c25f5"/>
<rect x="573.80" y="309.73" width="19.40" height="4.74" fill="#0c23f5"/>
<rect x="573.80" y="314.16" width="19.40" height="4.74" fill="#0c21f5"/>
</g>
<rect x="573.80" y="34.75" width="19.40" height="283.85" fill="none" stroke="#111" stroke-width="1.1"/>
<text transform="translate(595.60 38.45) scale(1.07 1)" font-size="9.3" class="cb">1</text>
<path d="M573.80 70.23h2.6M593.20 70.23h-2.6" stroke="#111" stroke-width="0.9"/>
<text transform="translate(595.60 73.93) scale(1.07 1)" font-size="9.3" class="cb">0.9</text>
<path d="M573.80 105.71h2.6M593.20 105.71h-2.6" stroke="#111" stroke-width="0.9"/>
<text transform="translate(595.60 109.41) scale(1.07 1)" font-size="9.3" class="cb">0.8</text>
<path d="M573.80 141.19h2.6M593.20 141.19h-2.6" stroke="#111" stroke-width="0.9"/>
<text transform="translate(595.60 144.89) scale(1.07 1)" font-size="9.3" class="cb">0.7</text>
<path d="M573.80 176.68h2.6M593.20 176.68h-2.6" stroke="#111" stroke-width="0.9"/>
<text transform="translate(595.60 180.38) scale(1.07 1)" font-size="9.3" class="cb">0.6</text>
<path d="M573.80 212.16h2.6M593.20 212.16h-2.6" stroke="#111" stroke-width="0.9"/>
<text transform="translate(595.60 215.86) scale(1.07 1)" font-size="9.3" class="cb">0.5</text>
<path d="M573.80 247.64h2.6M593.20 247.64h-2.6" stroke="#111" stroke-width="0.9"/>
<text transform="translate(595.60 251.34) scale(1.07 1)" font-size="9.3" class="cb">0.4</text>
<path d="M573.80 283.12h2.6M593.20 283.12h-2.6" stroke="#111" stroke-width="0.9"/>
<text transform="translate(595.60 286.82) scale(1.07 1)" font-size="9.3" class="cb">0.3</text>
<text transform="translate(595.60 322.30) scale(1.07 1)" font-size="9.3" class="cb">0.2</text>
<text transform="translate(337.10 55.32) scale(1.06 1)" font-size="10.8" text-anchor="end">9</text>
<text transform="translate(337.10 86.86) scale(1.06 1)" font-size="10.8" text-anchor="end">8</text>
<text transform="translate(337.10 118.40) scale(1.06 1)" font-size="10.8" text-anchor="end">7</text>
<text transform="translate(337.10 149.94) scale(1.06 1)" font-size="10.8" text-anchor="end">6</text>
<text transform="translate(337.10 181.48) scale(1.06 1)" font-size="10.8" text-anchor="end">5</text>
<text transform="translate(337.10 213.01) scale(1.06 1)" font-size="10.8" text-anchor="end">4</text>
<text transform="translate(337.10 244.55) scale(1.06 1)" font-size="10.8" text-anchor="end">3</text>
<text transform="translate(337.10 276.09) scale(1.06 1)" font-size="10.8" text-anchor="end">2</text>
<text transform="translate(337.10 307.63) scale(1.06 1)" font-size="10.8" text-anchor="end">1</text>
<text transform="translate(348.46 332.50) scale(1.06 1)" font-size="10.8" text-anchor="middle">J</text>
<text transform="translate(366.78 332.50) scale(1.06 1)" font-size="10.8" text-anchor="middle">F</text>
<text transform="translate(385.09 332.50) scale(1.06 1)" font-size="10.8" text-anchor="middle">M</text>
<text transform="translate(403.41 332.50) scale(1.06 1)" font-size="10.8" text-anchor="middle">A</text>
<text transform="translate(421.73 332.50) scale(1.06 1)" font-size="10.8" text-anchor="middle">M</text>
<text transform="translate(440.04 332.50) scale(1.06 1)" font-size="10.8" text-anchor="middle">J</text>
<text transform="translate(458.36 332.50) scale(1.06 1)" font-size="10.8" text-anchor="middle">J</text>
<text transform="translate(476.68 332.50) scale(1.06 1)" font-size="10.8" text-anchor="middle">A</text>
<text transform="translate(494.99 332.50) scale(1.06 1)" font-size="10.8" text-anchor="middle">S</text>
<text transform="translate(513.31 332.50) scale(1.06 1)" font-size="10.8" text-anchor="middle">O</text>
<text transform="translate(531.62 332.50) scale(1.06 1)" font-size="10.8" text-anchor="middle">N</text>
<text transform="translate(549.94 332.50) scale(1.06 1)" font-size="10.8" text-anchor="middle">D</text>
<text transform="translate(395.20 25.45)" font-size="13.8">Correl(clim.adj) CFSv1</text>
<text transform="translate(453.00 350.10)" font-size="13.8" text-anchor="middle">target</text>
<text transform="translate(323.90 179.58) rotate(-90)" font-size="13.8" text-anchor="middle">lead</text>
<text transform="translate(311.50 15.30)" font-size="16.0" class="tag">(b)</text>
<g shape-rendering="crispEdges">
<rect x="28.60" y="391.46" width="18.66" height="31.83" fill="#a5fa3f"/>
<rect x="46.96" y="391.46" width="18.66" height="31.83" fill="#7afa58"/>
<rect x="65.32" y="391.46" width="18.66" height="31.83" fill="#95fa47"/>
<rect x="83.68" y="391.46" width="18.66" height="31.83" fill="#c5f92e"/>
<rect x="102.03" y="391.46" width="18.66" height="31.83" fill="#75fa60"/>
<rect x="120.39" y="391.46" width="18.66" height="31.83" fill="#e4f41f"/>
<rect x="138.75" y="391.46" width="18.66" height="31.83" fill="#f3f118"/>
<rect x="157.11" y="391.46" width="18.66" height="31.83" fill="#fcd914"/>
<rect x="175.47" y="391.46" width="18.66" height="31.83" fill="#6bfa6f"/>
<rect x="193.83" y="391.46" width="18.66" height="31.83" fill="#6bfa6f"/>
<rect x="212.18" y="391.46" width="18.66" height="31.83" fill="#95fa47"/>
<rect x="230.54" y="391.46" width="18.66" height="31.83" fill="#95fa47"/>
<rect x="28.60" y="422.99" width="18.66" height="31.83" fill="#e4f41f"/>
<rect x="46.96" y="422.99" width="18.66" height="31.83" fill="#84fa50"/>
<rect x="65.32" y="422.99" width="18.66" height="31.83" fill="#95fa47"/>
<rect x="83.68" y="422.99" width="18.66" height="31.83" fill="#a5fa3f"/>
<rect x="102.03" y="422.99" width="18.66" height="31.83" fill="#75fa60"/>
<rect x="120.39" y="422.99" width="18.66" height="31.83" fill="#ff9a14"/>
<rect x="138.75" y="422.99" width="18.66" height="31.83" fill="#febb14"/>
<rect x="157.11" y="422.99" width="18.66" height="31.83" fill="#95fa47"/>
<rect x="175.47" y="422.99" width="18.66" height="31.83" fill="#67fa8a"/>
<rect x="193.83" y="422.99" width="18.66" height="31.83" fill="#84fa50"/>
<rect x="212.18" y="422.99" width="18.66" height="31.83" fill="#d4f627"/>
<rect x="230.54" y="422.99" width="18.66" height="31.83" fill="#f3f118"/>
<rect x="28.60" y="454.51" width="18.66" height="31.83" fill="#fbe814"/>
<rect x="46.96" y="454.51" width="18.66" height="31.83" fill="#75fa60"/>
<rect x="65.32" y="454.51" width="18.66" height="31.83" fill="#95fa47"/>
<rect x="83.68" y="454.51" width="18.66" height="31.83" fill="#e4f41f"/>
<rect x="102.03" y="454.51" width="18.66" height="31.83" fill="#d4f627"/>
<rect x="120.39" y="454.51" width="18.66" height="31.83" fill="#f3f118"/>
<rect x="138.75" y="454.51" width="18.66" height="31.83" fill="#b6fa36"/>
<rect x="157.11" y="454.51" width="18.66" height="31.83" fill="#95fa47"/>
<rect x="175.47" y="454.51" width="18.66" height="31.83" fill="#7afa58"/>
<rect x="193.83" y="454.51" width="18.66" height="31.83" fill="#a5fa3f"/>
<rect x="212.18" y="454.51" width="18.66" height="31.83" fill="#ffab14"/>
<rect x="230.54" y="454.51" width="18.66" height="31.83" fill="#ff9a14"/>
<rect x="28.60" y="486.04" width="18.66" height="31.83" fill="#f3f118"/>
<rect x="46.96" y="486.04" width="18.66" height="31.83" fill="#d4f627"/>
<rect x="65.32" y="486.04" width="18.66" height="31.83" fill="#e4f41f"/>
<rect x="83.68" y="486.04" width="18.66" height="31.83" fill="#ff9a14"/>
<rect x="102.03" y="486.04" width="18.66" height="31.83" fill="#a5fa3f"/>
<rect x="120.39" y="486.04" width="18.66" height="31.83" fill="#e4f41f"/>
<rect x="138.75" y="486.04" width="18.66" height="31.83" fill="#a5fa3f"/>
<rect x="157.11" y="486.04" width="18.66" height="31.83" fill="#95fa47"/>
<rect x="175.47" y="486.04" width="18.66" height="31.83" fill="#a5fa3f"/>
<rect x="193.83" y="486.04" width="18.66" height="31.83" fill="#fcd914"/>
<rect x="212.18" y="486.04" width="18.66" height="31.83" fill="#ff6715"/>
<rect x="230.54" y="486.04" width="18.66" height="31.83" fill="#ff7714"/>
<rect x="28.60" y="517.57" width="18.66" height="31.83" fill="#ff5a16"/>
<rect x="46.96" y="517.57" width="18.66" height="31.83" fill="#e4f41f"/>
<rect x="65.32" y="517.57" width="18.66" height="31.83" fill="#ffab14"/>
<rect x="83.68" y="517.57" width="18.66" height="31.83" fill="#ff6715"/>
<rect x="102.03" y="517.57" width="18.66" height="31.83" fill="#a5fa3f"/>
<rect x="120.39" y="517.57" width="18.66" height="31.83" fill="#e4f41f"/>
<rect x="138.75" y="517.57" width="18.66" height="31.83" fill="#a5fa3f"/>
<rect x="157.11" y="517.57" width="18.66" height="31.83" fill="#d4f627"/>
<rect x="175.47" y="517.57" width="18.66" height="31.83" fill="#ffab14"/>
<rect x="193.83" y="517.57" width="18.66" height="31.83" fill="#ff6715"/>
<rect x="212.18" y="517.57" width="18.66" height="31.83" fill="#ff4d18"/>
<rect x="230.54" y="517.57" width="18.66" height="31.83" fill="#ff6715"/>
<rect x="28.60" y="549.09" width="18.66" height="31.83" fill="#ff5a16"/>
<rect x="46.96" y="549.09" width="18.66" height="31.83" fill="#ff9a14"/>
<rect x="65.32" y="549.09" width="18.66" height="31.83" fill="#ff4d18"/>
<rect x="83.68" y="549.09" width="18.66" height="31.83" fill="#ff5a16"/>
<rect x="102.03" y="549.09" width="18.66" height="31.83" fill="#fcd914"/>
<rect x="120.39" y="549.09" width="18.66" height="31.83" fill="#84fa50"/>
<rect x="138.75" y="549.09" width="18.66" height="31.83" fill="#f3f118"/>
<rect x="157.11" y="549.09" width="18.66" height="31.83" fill="#ff5a16"/>
<rect x="175.47" y="549.09" width="18.66" height="31.83" fill="#ff7714"/>
<rect x="193.83" y="549.09" width="18.66" height="31.83" fill="#ff7714"/>
<rect x="212.18" y="549.09" width="18.66" height="31.83" fill="#fe341a"/>
<rect x="230.54" y="549.09" width="18.66" height="31.83" fill="#fd2619"/>
<rect x="28.60" y="580.62" width="18.66" height="31.83" fill="#fd2619"/>
<rect x="46.96" y="580.62" width="18.66" height="31.83" fill="#fe341a"/>
<rect x="65.32" y="580.62" width="18.66" height="31.83" fill="#ff4019"/>
<rect x="83.68" y="580.62" width="18.66" height="31.83" fill="#fb1c18"/>
<rect x="102.03" y="580.62" width="18.66" height="31.83" fill="#ff6715"/>
<rect x="120.39" y="580.62" width="18.66" height="31.83" fill="#e4f41f"/>
<rect x="138.75" y="580.62" width="18.66" height="31.83" fill="#ff4019"/>
<rect x="157.11" y="580.62" width="18.66" height="31.83" fill="#ff4019"/>
<rect x="175.47" y="580.62" width="18.66" height="31.83" fill="#ff8814"/>
<rect x="193.83" y="580.62" width="18.66" height="31.83" fill="#ff4019"/>
<rect x="212.18" y="580.62" width="18.66" height="31.83" fill="#f91417"/>
<rect x="230.54" y="580.62" width="18.66" height="31.83" fill="#f91417"/>
<rect x="28.60" y="612.15" width="18.66" height="31.83" fill="#f91417"/>
<rect x="46.96" y="612.15" width="18.66" height="31.83" fill="#f91417"/>
<rect x="65.32" y="612.15" width="18.66" height="31.83" fill="#f91417"/>
<rect x="83.68" y="612.15" width="18.66" height="31.83" fill="#fb1c18"/>
<rect x="102.03" y="612.15" width="18.66" height="31.83" fill="#fb1c18"/>
<rect x="120.39" y="612.15" width="18.66" height="31.83" fill="#fe341a"/>
<rect x="138.75" y="612.15" width="18.66" height="31.83" fill="#ff6715"/>
<rect x="157.11" y="612.15" width="18.66" height="31.83" fill="#ff8814"/>
<rect x="175.47" y="612.15" width="18.66" height="31.83" fill="#ff5a16"/>
<rect x="193.83" y="612.15" width="18.66" height="31.83" fill="#fd2619"/>
<rect x="212.18" y="612.15" width="18.66" height="31.83" fill="#f91417"/>
<rect x="230.54" y="612.15" width="18.66" height="31.83" fill="#f91417"/>
<rect x="28.60" y="643.67" width="18.66" height="31.83" fill="#c50b0b"/>
<rect x="46.96" y="643.67" width="18.66" height="31.83" fill="#b50909"/>
<rect x="65.32" y="643.67" width="18.66" height="31.83" fill="#e20e12"/>
<rect x="83.68" y="643.67" width="18.66" height="31.83" fill="#f91417"/>
<rect x="102.03" y="643.67" width="18.66" height="31.83" fill="#f91417"/>
<rect x="120.39" y="643.67" width="18.66" height="31.83" fill="#f91417"/>
<rect x="138.75" y="643.67" width="18.66" height="31.83" fill="#ff4019"/>
<rect x="157.11" y="643.67" width="18.66" height="31.83" fill="#ff4019"/>
<rect x="175.47" y="643.67" width="18.66" height="31.83" fill="#ff4019"/>
<rect x="193.83" y="643.67" width="18.66" height="31.83" fill="#f91417"/>
<rect x="212.18" y="643.67" width="18.66" height="31.83" fill="#c50b0b"/>
<rect x="230.54" y="643.67" width="18.66" height="31.83" fill="#a20606"/>
</g>
<path d="M28.60 390.96V675.70M46.96 390.96V675.70M65.32 390.96V675.70M83.68 390.96V675.70M102.03 390.96V675.70M120.39 390.96V675.70M138.75 390.96V675.70M157.11 390.96V675.70M175.47 390.96V675.70M193.83 390.96V675.70M212.18 390.96V675.70M230.54 390.96V675.70M248.90 390.96V675.70M28.10 391.46H249.40M28.10 422.99H249.40M28.10 454.51H249.40M28.10 486.04H249.40M28.10 517.57H249.40M28.10 549.09H249.40M28.10 580.62H249.40M28.10 612.15H249.40M28.10 643.67H249.40M28.10 675.20H249.40" stroke="#1c1c1c" stroke-width="1.05" fill="none"/>
<g shape-rendering="crispEdges">
<rect x="263.30" y="391.46" width="19.10" height="4.73" fill="#7c0101"/>
<rect x="263.30" y="395.89" width="19.10" height="4.73" fill="#8f0404"/>
<rect x="263.30" y="400.33" width="19.10" height="4.73" fill="#a20606"/>
<rect x="263.30" y="404.76" width="19.10" height="4.73" fill="#b50909"/>
<rect x="263.30" y="409.19" width="19.10" height="4.73" fill="#c50b0b"/>
<rect x="263.30" y="413.63" width="19.10" height="4.73" fill="#d40c0e"/>
<rect x="263.30" y="418.06" width="19.10" height="4.73" fill="#e20e12"/>
<rect x="263.30" y="422.49" width="19.10" height="4.73" fill="#f10f15"/>
<rect x="263.30" y="426.93" width="19.10" height="4.73" fill="#f91417"/>
<rect x="263.30" y="431.36" width="19.10" height="4.73" fill="#fb1c18"/>
<rect x="263.30" y="435.79" width="19.10" height="4.73" fill="#fd2619"/>
<rect x="263.30" y="440.23" width="19.10" height="4.73" fill="#fe341a"/>
<rect x="263.30" y="444.66" width="19.10" height="4.73" fill="#ff4019"/>
<rect x="263.30" y="449.09" width="19.10" height="4.73" fill="#ff4d18"/>
<rect x="263.30" y="453.53" width="19.10" height="4.73" fill="#ff5a16"/>
<rect x="263.30" y="457.96" width="19.10" height="4.73" fill="#ff6715"/>
<rect x="263.30" y="462.39" width="19.10" height="4.73" fill="#ff7714"/>
<rect x="263.30" y="466.83" width="19.10" height="4.73" fill="#ff8814"/>
<rect x="263.30" y="471.26" width="19.10" height="4.73" fill="#ff9a14"/>
<rect x="263.30" y="475.70" width="19.10" height="4.73" fill="#ffab14"/>
<rect x="263.30" y="480.13" width="19.10" height="4.73" fill="#febb14"/>
<rect x="263.30" y="484.56" width="19.10" height="4.73" fill="#fdcb14"/>
<rect x="263.30" y="489.00" width="19.10" height="4.73" fill="#fcd914"/>
<rect x="263.30" y="493.43" width="19.10" height="4.73" fill="#fbe814"/>
<rect x="263.30" y="497.86" width="19.10" height="4.73" fill="#f3f118"/>
<rect x="263.30" y="502.30" width="19.10" height="4.73" fill="#e4f41f"/>
<rect x="263.30" y="506.73" width="19.10" height="4.73" fill="#d4f627"/>
<rect x="263.30" y="511.16" width="19.10" height="4.73" fill="#c5f92e"/>
<rect x="263.30" y="515.60" width="19.10" height="4.73" fill="#b6fa36"/>
<rect x="263.30" y="520.03" width="19.10" height="4.73" fill="#a5fa3f"/>
<rect x="263.30" y="524.46" width="19.10" height="4.73" fill="#95fa47"/>
<rect x="263.30" y="528.90" width="19.10" height="4.73" fill="#84fa50"/>
<rect x="263.30" y="533.33" width="19.10" height="4.73" fill="#7afa58"/>
<rect x="263.30" y="537.76" width="19.10" height="4.73" fill="#75fa60"/>
<rect x="263.30" y="542.20" width="19.10" height="4.73" fill="#70fa67"/>
<rect x="263.30" y="546.63" width="19.10" height="4.73" fill="#6bfa6f"/>
<rect x="263.30" y="551.06" width="19.10" height="4.73" fill="#68fa7b"/>
<rect x="263.30" y="555.50" width="19.10" height="4.73" fill="#67fa8a"/>
<rect x="263.30" y="559.93" width="19.10" height="4.73" fill="#66fa98"/>
<rect x="263.30" y="564.36" width="19.10" height="4.73" fill="#65faa7"/>
<rect x="263.30" y="568.80" width="19.10" height="4.73" fill="#5ff8ba"/>
<rect x="263.30" y="573.23" width="19.10" height="4.73" fill="#54f4d1"/>
<rect x="263.30" y="577.66" width="19.10" height="4.73" fill="#4aeee7"/>
<rect x="263.30" y="582.10" width="19.10" height="4.73" fill="#41ddf0"/>
<rect x="263.30" y="586.53" width="19.10" height="4.73" fill="#3ac7f5"/>
<rect x="263.30" y="590.96" width="19.10" height="4.73" fill="#37adf5"/>
<rect x="263.30" y="595.40" width="19.10" height="4.73" fill="#339af5"/>
<rect x="263.30" y="599.83" width="19.10" height="4.73" fill="#2f89f5"/>
<rect x="263.30" y="604.27" width="19.10" height="4.73" fill="#2a7bf5"/>
<rect x="263.30" y="608.70" width="19.10" height="4.73" fill="#2470f4"/>
<rect x="263.30" y="613.13" width="19.10" height="4.73" fill="#1f66f3"/>
<rect x="263.30" y="617.57" width="19.10" height="4.73" fill="#195bf2"/>
<rect x="263.30" y="622.00" width="19.10" height="4.73" fill="#1552f2"/>
<rect x="263.30" y="626.43" width="19.10" height="4.73" fill="#134af2"/>
<rect x="263.30" y="630.87" width="19.10" height="4.73" fill="#1143f3"/>
<rect x="263.30" y="635.30" width="19.10" height="4.73" fill="#0f3bf3"/>
<rect x="263.30" y="639.73" width="19.10" height="4.73" fill="#0e35f3"/>
<rect x="263.30" y="644.17" width="19.10" height="4.73" fill="#0d31f4"/>
<rect x="263.30" y="648.60" width="19.10" height="4.73" fill="#0d2ef4"/>
<rect x="263.30" y="653.03" width="19.10" height="4.73" fill="#0c2af5"/>
<rect x="263.30" y="657.47" width="19.10" height="4.73" fill="#0c27f5"/>
<rect x="263.30" y="661.90" width="19.10" height="4.73" fill="#0c25f5"/>
<rect x="263.30" y="666.33" width="19.10" height="4.73" fill="#0c23f5"/>
<rect x="263.30" y="670.77" width="19.10" height="4.73" fill="#0c21f5"/>
</g>
<rect x="263.30" y="391.46" width="19.10" height="283.74" fill="none" stroke="#111" stroke-width="1.1"/>
<text transform="translate(284.80 395.16) scale(1.07 1)" font-size="9.3" class="cb">1</text>
<path d="M263.30 426.93h2.6M282.40 426.93h-2.6" stroke="#111" stroke-width="0.9"/>
<text transform="translate(284.80 430.63) scale(1.07 1)" font-size="9.3" class="cb">0.9</text>
<path d="M263.30 462.39h2.6M282.40 462.39h-2.6" stroke="#111" stroke-width="0.9"/>
<text transform="translate(284.80 466.09) scale(1.07 1)" font-size="9.3" class="cb">0.8</text>
<path d="M263.30 497.86h2.6M282.40 497.86h-2.6" stroke="#111" stroke-width="0.9"/>
<text transform="translate(284.80 501.56) scale(1.07 1)" font-size="9.3" class="cb">0.7</text>
<path d="M263.30 533.33h2.6M282.40 533.33h-2.6" stroke="#111" stroke-width="0.9"/>
<text transform="translate(284.80 537.03) scale(1.07 1)" font-size="9.3" class="cb">0.6</text>
<path d="M263.30 568.80h2.6M282.40 568.80h-2.6" stroke="#111" stroke-width="0.9"/>
<text transform="translate(284.80 572.50) scale(1.07 1)" font-size="9.3" class="cb">0.5</text>
<path d="M263.30 604.27h2.6M282.40 604.27h-2.6" stroke="#111" stroke-width="0.9"/>
<text transform="translate(284.80 607.97) scale(1.07 1)" font-size="9.3" class="cb">0.4</text>
<path d="M263.30 639.73h2.6M282.40 639.73h-2.6" stroke="#111" stroke-width="0.9"/>
<text transform="translate(284.80 643.43) scale(1.07 1)" font-size="9.3" class="cb">0.3</text>
<text transform="translate(284.80 678.90) scale(1.07 1)" font-size="9.3" class="cb">0.2</text>
<text transform="translate(26.40 412.02) scale(1.06 1)" font-size="10.8" text-anchor="end">9</text>
<text transform="translate(26.40 443.55) scale(1.06 1)" font-size="10.8" text-anchor="end">8</text>
<text transform="translate(26.40 475.08) scale(1.06 1)" font-size="10.8" text-anchor="end">7</text>
<text transform="translate(26.40 506.60) scale(1.06 1)" font-size="10.8" text-anchor="end">6</text>
<text transform="translate(26.40 538.13) scale(1.06 1)" font-size="10.8" text-anchor="end">5</text>
<text transform="translate(26.40 569.66) scale(1.06 1)" font-size="10.8" text-anchor="end">4</text>
<text transform="translate(26.40 601.18) scale(1.06 1)" font-size="10.8" text-anchor="end">3</text>
<text transform="translate(26.40 632.71) scale(1.06 1)" font-size="10.8" text-anchor="end">2</text>
<text transform="translate(26.40 664.24) scale(1.06 1)" font-size="10.8" text-anchor="end">1</text>
<text transform="translate(37.78 689.10) scale(1.06 1)" font-size="10.8" text-anchor="middle">J</text>
<text transform="translate(56.14 689.10) scale(1.06 1)" font-size="10.8" text-anchor="middle">F</text>
<text transform="translate(74.50 689.10) scale(1.06 1)" font-size="10.8" text-anchor="middle">M</text>
<text transform="translate(92.85 689.10) scale(1.06 1)" font-size="10.8" text-anchor="middle">A</text>
<text transform="translate(111.21 689.10) scale(1.06 1)" font-size="10.8" text-anchor="middle">M</text>
<text transform="translate(129.57 689.10) scale(1.06 1)" font-size="10.8" text-anchor="middle">J</text>
<text transform="translate(147.93 689.10) scale(1.06 1)" font-size="10.8" text-anchor="middle">J</text>
<text transform="translate(166.29 689.10) scale(1.06 1)" font-size="10.8" text-anchor="middle">A</text>
<text transform="translate(184.65 689.10) scale(1.06 1)" font-size="10.8" text-anchor="middle">S</text>
<text transform="translate(203.00 689.10) scale(1.06 1)" font-size="10.8" text-anchor="middle">O</text>
<text transform="translate(221.36 689.10) scale(1.06 1)" font-size="10.8" text-anchor="middle">N</text>
<text transform="translate(239.72 689.10) scale(1.06 1)" font-size="10.8" text-anchor="middle">D</text>
<text transform="translate(108.60 382.16)" font-size="13.8">Correl CFSv2</text>
<text transform="translate(142.55 707.00)" font-size="13.8" text-anchor="middle">target</text>
<text transform="translate(13.00 531.53) rotate(-90)" font-size="13.8" text-anchor="middle">lead</text>
<text transform="translate(0.30 370.80)" font-size="16.0" class="tag">(c)</text>
<g shape-rendering="crispEdges">
<rect x="339.30" y="391.46" width="18.62" height="31.83" fill="#fb1c18"/>
<rect x="357.62" y="391.46" width="18.62" height="31.83" fill="#f91417"/>
<rect x="375.93" y="391.46" width="18.62" height="31.83" fill="#f10f15"/>
<rect x="394.25" y="391.46" width="18.62" height="31.83" fill="#f91417"/>
<rect x="412.57" y="391.46" width="18.62" height="31.83" fill="#ff7714"/>
<rect x="430.88" y="391.46" width="18.62" height="31.83" fill="#ffab14"/>
<rect x="449.20" y="391.46" width="18.62" height="31.83" fill="#fbe814"/>
<rect x="467.52" y="391.46" width="18.62" height="31.83" fill="#ffab14"/>
<rect x="485.83" y="391.46" width="18.62" height="31.83" fill="#a5fa3f"/>
<rect x="504.15" y="391.46" width="18.62" height="31.83" fill="#a5fa3f"/>
<rect x="522.47" y="391.46" width="18.62" height="31.83" fill="#fdcb14"/>
<rect x="540.78" y="391.46" width="18.62" height="31.83" fill="#ff4d18"/>
<rect x="339.30" y="422.99" width="18.62" height="31.83" fill="#f91417"/>
<rect x="357.62" y="422.99" width="18.62" height="31.83" fill="#f91417"/>
<rect x="375.93" y="422.99" width="18.62" height="31.83" fill="#f91417"/>
<rect x="394.25" y="422.99" width="18.62" height="31.83" fill="#f91417"/>
<rect x="412.57" y="422.99" width="18.62" height="31.83" fill="#ff8814"/>
<rect x="430.88" y="422.99" width="18.62" height="31.83" fill="#ff6715"/>
<rect x="449.20" y="422.99" width="18.62" height="31.83" fill="#ffab14"/>
<rect x="467.52" y="422.99" width="18.62" height="31.83" fill="#d4f627"/>
<rect x="485.83" y="422.99" width="18.62" height="31.83" fill="#95fa47"/>
<rect x="504.15" y="422.99" width="18.62" height="31.83" fill="#f3f118"/>
<rect x="522.47" y="422.99" width="18.62" height="31.83" fill="#ff5a16"/>
<rect x="540.78" y="422.99" width="18.62" height="31.83" fill="#fd2619"/>
<rect x="339.30" y="454.51" width="18.62" height="31.83" fill="#f10f15"/>
<rect x="357.62" y="454.51" width="18.62" height="31.83" fill="#f91417"/>
<rect x="375.93" y="454.51" width="18.62" height="31.83" fill="#f91417"/>
<rect x="394.25" y="454.51" width="18.62" height="31.83" fill="#f91417"/>
<rect x="412.57" y="454.51" width="18.62" height="31.83" fill="#ff4d18"/>
<rect x="430.88" y="454.51" width="18.62" height="31.83" fill="#f3f118"/>
<rect x="449.20" y="454.51" width="18.62" height="31.83" fill="#d4f627"/>
<rect x="467.52" y="454.51" width="18.62" height="31.83" fill="#d4f627"/>
<rect x="485.83" y="454.51" width="18.62" height="31.83" fill="#e4f41f"/>
<rect x="504.15" y="454.51" width="18.62" height="31.83" fill="#ff7714"/>
<rect x="522.47" y="454.51" width="18.62" height="31.83" fill="#fd2619"/>
<rect x="540.78" y="454.51" width="18.62" height="31.83" fill="#f91417"/>
<rect x="339.30" y="486.04" width="18.62" height="31.83" fill="#f10f15"/>
<rect x="357.62" y="486.04" width="18.62" height="31.83" fill="#f91417"/>
<rect x="375.93" y="486.04" width="18.62" height="31.83" fill="#f91417"/>
<rect x="394.25" y="486.04" width="18.62" height="31.83" fill="#f10f15"/>
<rect x="412.57" y="486.04" width="18.62" height="31.83" fill="#f3f118"/>
<rect x="430.88" y="486.04" width="18.62" height="31.83" fill="#f3f118"/>
<rect x="449.20" y="486.04" width="18.62" height="31.83" fill="#e4f41f"/>
<rect x="467.52" y="486.04" width="18.62" height="31.83" fill="#f3f118"/>
<rect x="485.83" y="486.04" width="18.62" height="31.83" fill="#febb14"/>
<rect x="504.15" y="486.04" width="18.62" height="31.83" fill="#ff4d18"/>
<rect x="522.47" y="486.04" width="18.62" height="31.83" fill="#fd2619"/>
<rect x="540.78" y="486.04" width="18.62" height="31.83" fill="#f91417"/>
<rect x="339.30" y="517.57" width="18.62" height="31.83" fill="#f10f15"/>
<rect x="357.62" y="517.57" width="18.62" height="31.83" fill="#f91417"/>
<rect x="375.93" y="517.57" width="18.62" height="31.83" fill="#f91417"/>
<rect x="394.25" y="517.57" width="18.62" height="31.83" fill="#f91417"/>
<rect x="412.57" y="517.57" width="18.62" height="31.83" fill="#ff9a14"/>
<rect x="430.88" y="517.57" width="18.62" height="31.83" fill="#ff8814"/>
<rect x="449.20" y="517.57" width="18.62" height="31.83" fill="#fcd914"/>
<rect x="467.52" y="517.57" width="18.62" height="31.83" fill="#ff6715"/>
<rect x="485.83" y="517.57" width="18.62" height="31.83" fill="#ff4019"/>
<rect x="504.15" y="517.57" width="18.62" height="31.83" fill="#fe341a"/>
<rect x="522.47" y="517.57" width="18.62" height="31.83" fill="#f91417"/>
<rect x="540.78" y="517.57" width="18.62" height="31.83" fill="#f10f15"/>
<rect x="339.30" y="549.09" width="18.62" height="31.83" fill="#e20e12"/>
<rect x="357.62" y="549.09" width="18.62" height="31.83" fill="#f91417"/>
<rect x="375.93" y="549.09" width="18.62" height="31.83" fill="#f91417"/>
<rect x="394.25" y="549.09" width="18.62" height="31.83" fill="#f91417"/>
<rect x="412.57" y="549.09" width="18.62" height="31.83" fill="#ff4019"/>
<rect x="430.88" y="549.09" width="18.62" height="31.83" fill="#f3f118"/>
<rect x="449.20" y="549.09" width="18.62" height="31.83" fill="#ff9a14"/>
<rect x="467.52" y="549.09" width="18.62" height="31.83" fill="#fd2619"/>
<rect x="485.83" y="549.09" width="18.62" height="31.83" fill="#fd2619"/>
<rect x="504.15" y="549.09" width="18.62" height="31.83" fill="#f91417"/>
<rect x="522.47" y="549.09" width="18.62" height="31.83" fill="#f10f15"/>
<rect x="540.78" y="549.09" width="18.62" height="31.83" fill="#d40c0e"/>
<rect x="339.30" y="580.62" width="18.62" height="31.83" fill="#c50b0b"/>
<rect x="357.62" y="580.62" width="18.62" height="31.83" fill="#e20e12"/>
<rect x="375.93" y="580.62" width="18.62" height="31.83" fill="#f91417"/>
<rect x="394.25" y="580.62" width="18.62" height="31.83" fill="#f10f15"/>
<rect x="412.57" y="580.62" width="18.62" height="31.83" fill="#fb1c18"/>
<rect x="430.88" y="580.62" width="18.62" height="31.83" fill="#fdcb14"/>
<rect x="449.20" y="580.62" width="18.62" height="31.83" fill="#ff4019"/>
<rect x="467.52" y="580.62" width="18.62" height="31.83" fill="#fd2619"/>
<rect x="485.83" y="580.62" width="18.62" height="31.83" fill="#f91417"/>
<rect x="504.15" y="580.62" width="18.62" height="31.83" fill="#f10f15"/>
<rect x="522.47" y="580.62" width="18.62" height="31.83" fill="#b50909"/>
<rect x="540.78" y="580.62" width="18.62" height="31.83" fill="#b50909"/>
<rect x="339.30" y="612.15" width="18.62" height="31.83" fill="#c50b0b"/>
<rect x="357.62" y="612.15" width="18.62" height="31.83" fill="#d40c0e"/>
<rect x="375.93" y="612.15" width="18.62" height="31.83" fill="#b50909"/>
<rect x="394.25" y="612.15" width="18.62" height="31.83" fill="#e20e12"/>
<rect x="412.57" y="612.15" width="18.62" height="31.83" fill="#f10f15"/>
<rect x="430.88" y="612.15" width="18.62" height="31.83" fill="#ff4019"/>
<rect x="449.20" y="612.15" width="18.62" height="31.83" fill="#ff5a16"/>
<rect x="467.52" y="612.15" width="18.62" height="31.83" fill="#fb1c18"/>
<rect x="485.83" y="612.15" width="18.62" height="31.83" fill="#f91417"/>
<rect x="504.15" y="612.15" width="18.62" height="31.83" fill="#b50909"/>
<rect x="522.47" y="612.15" width="18.62" height="31.83" fill="#a20606"/>
<rect x="540.78" y="612.15" width="18.62" height="31.83" fill="#b50909"/>
<rect x="339.30" y="643.67" width="18.62" height="31.83" fill="#7c0101"/>
<rect x="357.62" y="643.67" width="18.62" height="31.83" fill="#8f0404"/>
<rect x="375.93" y="643.67" width="18.62" height="31.83" fill="#a20606"/>
<rect x="394.25" y="643.67" width="18.62" height="31.83" fill="#b50909"/>
<rect x="412.57" y="643.67" width="18.62" height="31.83" fill="#b50909"/>
<rect x="430.88" y="643.67" width="18.62" height="31.83" fill="#c50b0b"/>
<rect x="449.20" y="643.67" width="18.62" height="31.83" fill="#f91417"/>
<rect x="467.52" y="643.67" width="18.62" height="31.83" fill="#d40c0e"/>
<rect x="485.83" y="643.67" width="18.62" height="31.83" fill="#f10f15"/>
<rect x="504.15" y="643.67" width="18.62" height="31.83" fill="#b50909"/>
<rect x="522.47" y="643.67" width="18.62" height="31.83" fill="#7c0101"/>
<rect x="540.78" y="643.67" width="18.62" height="31.83" fill="#7c0101"/>
</g>
<path d="M339.30 390.96V675.70M357.62 390.96V675.70M375.93 390.96V675.70M394.25 390.96V675.70M412.57 390.96V675.70M430.88 390.96V675.70M449.20 390.96V675.70M467.52 390.96V675.70M485.83 390.96V675.70M504.15 390.96V675.70M522.47 390.96V675.70M540.78 390.96V675.70M559.10 390.96V675.70M338.80 391.46H559.60M338.80 422.99H559.60M338.80 454.51H559.60M338.80 486.04H559.60M338.80 517.57H559.60M338.80 549.09H559.60M338.80 580.62H559.60M338.80 612.15H559.60M338.80 643.67H559.60M338.80 675.20H559.60" stroke="#1c1c1c" stroke-width="1.05" fill="none"/>
<g shape-rendering="crispEdges">
<rect x="573.80" y="391.46" width="19.40" height="4.73" fill="#7c0101"/>
<rect x="573.80" y="395.89" width="19.40" height="4.73" fill="#8f0404"/>
<rect x="573.80" y="400.33" width="19.40" height="4.73" fill="#a20606"/>
<rect x="573.80" y="404.76" width="19.40" height="4.73" fill="#b50909"/>
<rect x="573.80" y="409.19" width="19.40" height="4.73" fill="#c50b0b"/>
<rect x="573.80" y="413.63" width="19.40" height="4.73" fill="#d40c0e"/>
<rect x="573.80" y="418.06" width="19.40" height="4.73" fill="#e20e12"/>
<rect x="573.80" y="422.49" width="19.40" height="4.73" fill="#f10f15"/>
<rect x="573.80" y="426.93" width="19.40" height="4.73" fill="#f91417"/>
<rect x="573.80" y="431.36" width="19.40" height="4.73" fill="#fb1c18"/>
<rect x="573.80" y="435.79" width="19.40" height="4.73" fill="#fd2619"/>
<rect x="573.80" y="440.23" width="19.40" height="4.73" fill="#fe341a"/>
<rect x="573.80" y="444.66" width="19.40" height="4.73" fill="#ff4019"/>
<rect x="573.80" y="449.09" width="19.40" height="4.73" fill="#ff4d18"/>
<rect x="573.80" y="453.53" width="19.40" height="4.73" fill="#ff5a16"/>
<rect x="573.80" y="457.96" width="19.40" height="4.73" fill="#ff6715"/>
<rect x="573.80" y="462.39" width="19.40" height="4.73" fill="#ff7714"/>
<rect x="573.80" y="466.83" width="19.40" height="4.73" fill="#ff8814"/>
<rect x="573.80" y="471.26" width="19.40" height="4.73" fill="#ff9a14"/>
<rect x="573.80" y="475.70" width="19.40" height="4.73" fill="#ffab14"/>
<rect x="573.80" y="480.13" width="19.40" height="4.73" fill="#febb14"/>
<rect x="573.80" y="484.56" width="19.40" height="4.73" fill="#fdcb14"/>
<rect x="573.80" y="489.00" width="19.40" height="4.73" fill="#fcd914"/>
<rect x="573.80" y="493.43" width="19.40" height="4.73" fill="#fbe814"/>
<rect x="573.80" y="497.86" width="19.40" height="4.73" fill="#f3f118"/>
<rect x="573.80" y="502.30" width="19.40" height="4.73" fill="#e4f41f"/>
<rect x="573.80" y="506.73" width="19.40" height="4.73" fill="#d4f627"/>
<rect x="573.80" y="511.16" width="19.40" height="4.73" fill="#c5f92e"/>
<rect x="573.80" y="515.60" width="19.40" height="4.73" fill="#b6fa36"/>
<rect x="573.80" y="520.03" width="19.40" height="4.73" fill="#a5fa3f"/>
<rect x="573.80" y="524.46" width="19.40" height="4.73" fill="#95fa47"/>
<rect x="573.80" y="528.90" width="19.40" height="4.73" fill="#84fa50"/>
<rect x="573.80" y="533.33" width="19.40" height="4.73" fill="#7afa58"/>
<rect x="573.80" y="537.76" width="19.40" height="4.73" fill="#75fa60"/>
<rect x="573.80" y="542.20" width="19.40" height="4.73" fill="#70fa67"/>
<rect x="573.80" y="546.63" width="19.40" height="4.73" fill="#6bfa6f"/>
<rect x="573.80" y="551.06" width="19.40" height="4.73" fill="#68fa7b"/>
<rect x="573.80" y="555.50" width="19.40" height="4.73" fill="#67fa8a"/>
<rect x="573.80" y="559.93" width="19.40" height="4.73" fill="#66fa98"/>
<rect x="573.80" y="564.36" width="19.40" height="4.73" fill="#65faa7"/>
<rect x="573.80" y="568.80" width="19.40" height="4.73" fill="#5ff8ba"/>
<rect x="573.80" y="573.23" width="19.40" height="4.73" fill="#54f4d1"/>
<rect x="573.80" y="577.66" width="19.40" height="4.73" fill="#4aeee7"/>
<rect x="573.80" y="582.10" width="19.40" height="4.73" fill="#41ddf0"/>
<rect x="573.80" y="586.53" width="19.40" height="4.73" fill="#3ac7f5"/>
<rect x="573.80" y="590.96" width="19.40" height="4.73" fill="#37adf5"/>
<rect x="573.80" y="595.40" width="19.40" height="4.73" fill="#339af5"/>
<rect x="573.80" y="599.83" width="19.40" height="4.73" fill="#2f89f5"/>
<rect x="573.80" y="604.27" width="19.40" height="4.73" fill="#2a7bf5"/>
<rect x="573.80" y="608.70" width="19.40" height="4.73" fill="#2470f4"/>
<rect x="573.80" y="613.13" width="19.40" height="4.73" fill="#1f66f3"/>
<rect x="573.80" y="617.57" width="19.40" height="4.73" fill="#195bf2"/>
<rect x="573.80" y="622.00" width="19.40" height="4.73" fill="#1552f2"/>
<rect x="573.80" y="626.43" width="19.40" height="4.73" fill="#134af2"/>
<rect x="573.80" y="630.87" width="19.40" height="4.73" fill="#1143f3"/>
<rect x="573.80" y="635.30" width="19.40" height="4.73" fill="#0f3bf3"/>
<rect x="573.80" y="639.73" width="19.40" height="4.73" fill="#0e35f3"/>
<rect x="573.80" y="644.17" width="19.40" height="4.73" fill="#0d31f4"/>
<rect x="573.80" y="648.60" width="19.40" height="4.73" fill="#0d2ef4"/>
<rect x="573.80" y="653.03" width="19.40" height="4.73" fill="#0c2af5"/>
<rect x="573.80" y="657.47" width="19.40" height="4.73" fill="#0c27f5"/>
<rect x="573.80" y="661.90" width="19.40" height="4.73" fill="#0c25f5"/>
<rect x="573.80" y="666.33" width="19.40" height="4.73" fill="#0c23f5"/>
<rect x="573.80" y="670.77" width="19.40" height="4.73" fill="#0c21f5"/>
</g>
<rect x="573.80" y="391.46" width="19.40" height="283.74" fill="none" stroke="#111" stroke-width="1.1"/>
<text transform="translate(595.60 395.16) scale(1.07 1)" font-size="9.3" class="cb">1</text>
<path d="M573.80 426.93h2.6M593.20 426.93h-2.6" stroke="#111" stroke-width="0.9"/>
<text transform="translate(595.60 430.63) scale(1.07 1)" font-size="9.3" class="cb">0.9</text>
<path d="M573.80 462.39h2.6M593.20 462.39h-2.6" stroke="#111" stroke-width="0.9"/>
<text transform="translate(595.60 466.09) scale(1.07 1)" font-size="9.3" class="cb">0.8</text>
<path d="M573.80 497.86h2.6M593.20 497.86h-2.6" stroke="#111" stroke-width="0.9"/>
<text transform="translate(595.60 501.56) scale(1.07 1)" font-size="9.3" class="cb">0.7</text>
<path d="M573.80 533.33h2.6M593.20 533.33h-2.6" stroke="#111" stroke-width="0.9"/>
<text transform="translate(595.60 537.03) scale(1.07 1)" font-size="9.3" class="cb">0.6</text>
<path d="M573.80 568.80h2.6M593.20 568.80h-2.6" stroke="#111" stroke-width="0.9"/>
<text transform="translate(595.60 572.50) scale(1.07 1)" font-size="9.3" class="cb">0.5</text>
<path d="M573.80 604.27h2.6M593.20 604.27h-2.6" stroke="#111" stroke-width="0.9"/>
<text transform="translate(595.60 607.97) scale(1.07 1)" font-size="9.3" class="cb">0.4</text>
<path d="M573.80 639.73h2.6M593.20 639.73h-2.6" stroke="#111" stroke-width="0.9"/>
<text transform="translate(595.60 643.43) scale(1.07 1)" font-size="9.3" class="cb">0.3</text>
<text transform="translate(595.60 678.90) scale(1.07 1)" font-size="9.3" class="cb">0.2</text>
<text transform="translate(337.10 412.02) scale(1.06 1)" font-size="10.8" text-anchor="end">9</text>
<text transform="translate(337.10 443.55) scale(1.06 1)" font-size="10.8" text-anchor="end">8</text>
<text transform="translate(337.10 475.08) scale(1.06 1)" font-size="10.8" text-anchor="end">7</text>
<text transform="translate(337.10 506.60) scale(1.06 1)" font-size="10.8" text-anchor="end">6</text>
<text transform="translate(337.10 538.13) scale(1.06 1)" font-size="10.8" text-anchor="end">5</text>
<text transform="translate(337.10 569.66) scale(1.06 1)" font-size="10.8" text-anchor="end">4</text>
<text transform="translate(337.10 601.18) scale(1.06 1)" font-size="10.8" text-anchor="end">3</text>
<text transform="translate(337.10 632.71) scale(1.06 1)" font-size="10.8" text-anchor="end">2</text>
<text transform="translate(337.10 664.24) scale(1.06 1)" font-size="10.8" text-anchor="end">1</text>
<text transform="translate(348.46 689.10) scale(1.06 1)" font-size="10.8" text-anchor="middle">J</text>
<text transform="translate(366.78 689.10) scale(1.06 1)" font-size="10.8" text-anchor="middle">F</text>
<text transform="translate(385.09 689.10) scale(1.06 1)" font-size="10.8" text-anchor="middle">M</text>
<text transform="translate(403.41 689.10) scale(1.06 1)" font-size="10.8" text-anchor="middle">A</text>
<text transform="translate(421.73 689.10) scale(1.06 1)" font-size="10.8" text-anchor="middle">M</text>
<text transform="translate(440.04 689.10) scale(1.06 1)" font-size="10.8" text-anchor="middle">J</text>
<text transform="translate(458.36 689.10) scale(1.06 1)" font-size="10.8" text-anchor="middle">J</text>
<text transform="translate(476.68 689.10) scale(1.06 1)" font-size="10.8" text-anchor="middle">A</text>
<text transform="translate(494.99 689.10) scale(1.06 1)" font-size="10.8" text-anchor="middle">S</text>
<text transform="translate(513.31 689.10) scale(1.06 1)" font-size="10.8" text-anchor="middle">O</text>
<text transform="translate(531.62 689.10) scale(1.06 1)" font-size="10.8" text-anchor="middle">N</text>
<text transform="translate(549.94 689.10) scale(1.06 1)" font-size="10.8" text-anchor="middle">D</text>
<text transform="translate(395.20 382.16)" font-size="13.8">Correl(clim.adj) CFSv2</text>
<text transform="translate(453.00 707.00)" font-size="13.8" text-anchor="middle">target</text>
<text transform="translate(323.90 535.73) rotate(-90)" font-size="13.8" text-anchor="middle">lead</text>
<text transform="translate(311.50 370.80)" font-size="16.0" class="tag">(d)</text>
</svg>
</body></html>
